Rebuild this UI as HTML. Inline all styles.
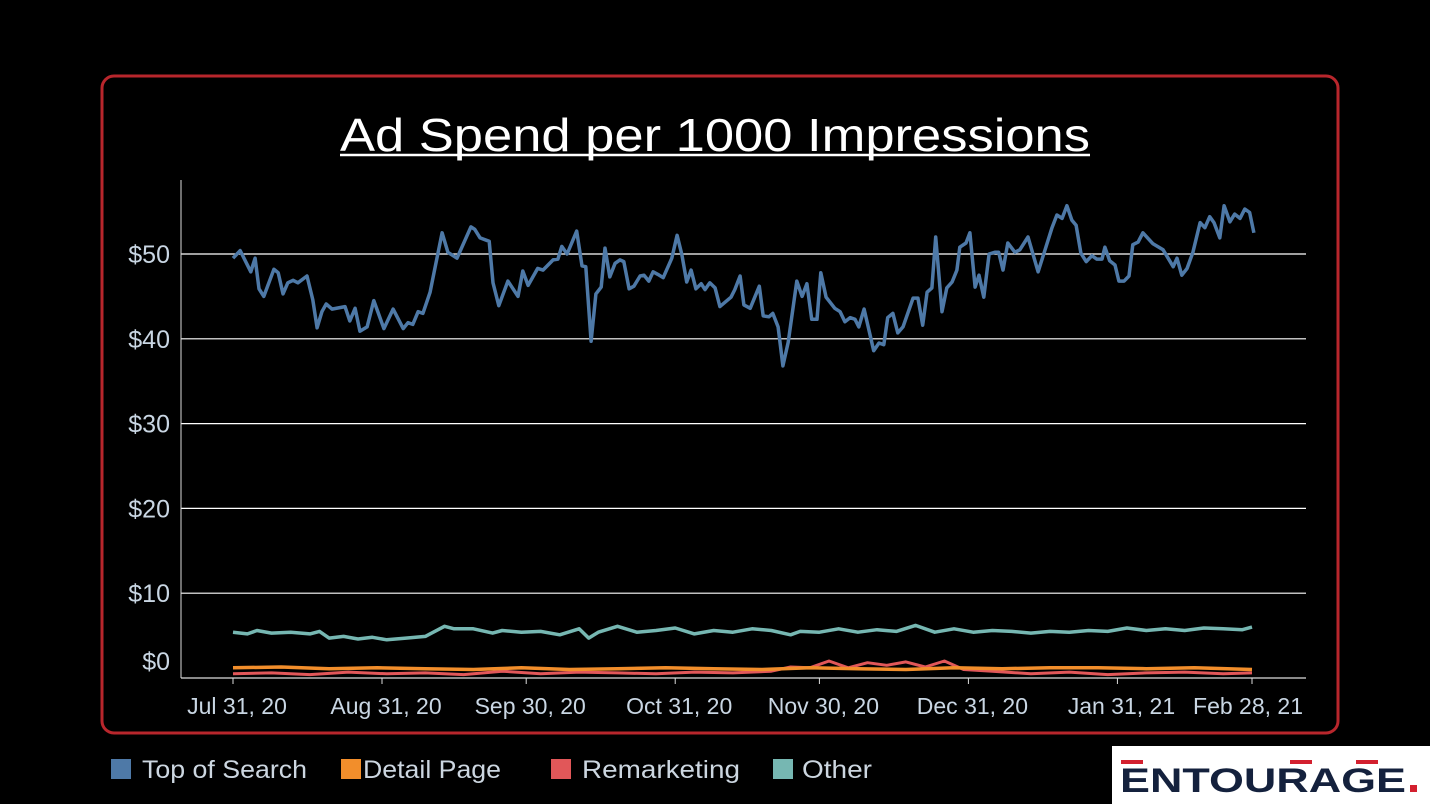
<!DOCTYPE html>
<html><head><meta charset="utf-8"><style>
html,body{margin:0;padding:0;background:#000;width:1430px;height:804px;overflow:hidden;font-family:"Liberation Sans",sans-serif}
</style></head><body>
<svg id="chart" width="1430" height="804" viewBox="0 0 1430 804" xmlns="http://www.w3.org/2000/svg">
<rect x="0" y="0" width="1430" height="804" fill="#000"/>
<rect x="102" y="76" width="1236" height="657" rx="12" fill="none" stroke="#b8262c" stroke-width="3"/>
<text x="715" y="151" text-anchor="middle" font-size="46" fill="#fff" textLength="750" lengthAdjust="spacingAndGlyphs">Ad Spend per 1000 Impressions</text>
<line x1="340" y1="155" x2="1090" y2="155" stroke="#fff" stroke-width="2.5"/>
<g id="grid"></g>
<g id="axes"></g>
<g id="series"></g>
<g id="legend">
<rect x="111" y="759" width="20" height="20" fill="#4e79a7"/>
<text x="142" y="778" font-size="25" fill="#ccd6e0" textLength="165" lengthAdjust="spacingAndGlyphs">Top of Search</text>
<rect x="341" y="759" width="20" height="20" fill="#f28e2b"/>
<text x="363" y="778" font-size="25" fill="#ccd6e0" textLength="138" lengthAdjust="spacingAndGlyphs">Detail Page</text>
<rect x="551" y="759" width="20" height="20" fill="#e15759"/>
<text x="582" y="778" font-size="25" fill="#ccd6e0" textLength="158" lengthAdjust="spacingAndGlyphs">Remarketing</text>
<rect x="773" y="759" width="20" height="20" fill="#76b7b2"/>
<text x="802" y="778" font-size="25" fill="#ccd6e0" textLength="70" lengthAdjust="spacingAndGlyphs">Other</text>
</g>
<g>
<rect x="1112" y="746" width="318" height="58" fill="#fff"/>
<rect x="1121" y="760" width="22" height="4" fill="#d3202f"/>
<rect x="1290" y="760" width="22" height="4" fill="#d3202f"/>
<rect x="1356" y="760" width="22" height="4" fill="#d3202f"/>
<text x="1120" y="792" font-size="34" font-weight="bold" fill="#14213d" textLength="286" lengthAdjust="spacingAndGlyphs">ENTOURAGE</text>
<rect x="1410" y="785" width="7" height="7" fill="#d3202f"/>
</g>
</svg>
<script>
const topDays=[0,1.5,3.7,4.6,5.4,6.4,8.5,9.4,10.4,11.4,12.5,13.5,15.4,16.6,17.5,18.5,19.4,20.6,23.3,24.3,25.4,26.4,27.9,29.3,31.4,33.3,35.4,36.4,37.4,38.5,39.5,41,41.6,43.5,44.7,46.6,49.5,50.3,51.4,53.3,54.1,55.3,57.2,59.3,60.3,61.4,63.4,64.5,66.6,67.6,68.4,69.5,71.5,72.6,73.4,74.5,75.5,76.6,77.4,78.4,79.5,80.5,81.3,82.4,83.4,84.7,85.5,86.5,87.4,88.4,89.5,91.3,92.4,93.4,94.4,95.3,96.3,97.4,98.2,99.2,100.3,101.3,103.6,104.4,105.5,106.3,107.6,109.5,110.3,111.5,112.3,113.4,114.4,115.5,117.3,118.4,119.4,120.4,121.5,122.3,123.4,125.2,126.3,127.3,128.4,129.4,130.2,131.3,133.3,134.4,135.4,136.2,137.3,138.3,139.4,141.5,142.5,143.5,144.4,145.4,146.2,147.5,148.5,149.6,150.6,151.2,152.5,153.3,154.4,155.2,156.2,157.3,158.5,159.3,160.2,161.2,162.7,163.7,165.4,167.5,168.9,170.4,171.4,172.5,173.5,174.5,175.4,176.4,177.5,178.7,179.7,180.8,181.4,182.4,183.5,184.3,185.4,186.4,187.2,188.3,189.3,191.4,193.5,195.6,196.4,197.4,198.5,199.7,201.2,202.2,203.2,204.1,205.3,206.2,207.4,208.4,209.5,210.5,211.5,212.4];
const topValues=[49.5,50.4,47.9,49.5,45.9,45.0,48.2,47.8,45.3,46.6,46.9,46.6,47.4,44.6,41.3,43.2,44.1,43.5,43.8,42.1,43.6,40.9,41.4,44.5,41.2,43.5,41.2,41.9,41.7,43.2,43.0,45.5,47.2,52.5,50.2,49.5,53.2,52.9,51.9,51.5,46.6,43.9,46.8,45.0,48.0,46.3,48.3,48.1,49.3,49.4,50.9,50.0,52.7,48.6,48.5,39.7,45.3,46.1,50.7,47.3,48.9,49.3,49.1,45.9,46.2,47.4,47.5,46.8,47.9,47.6,47.2,49.5,52.2,49.9,46.7,48.1,45.9,46.5,45.8,46.6,46.0,43.8,44.9,45.8,47.4,44.0,43.6,46.2,42.7,42.6,43.0,41.4,36.8,39.6,46.8,45.0,46.5,42.3,42.3,47.8,44.9,43.6,43.2,42.0,42.5,42.3,41.4,43.5,38.6,39.5,39.3,42.5,43.0,40.7,41.4,44.8,44.8,41.6,45.5,46.0,52.0,43.2,46.0,46.7,48.1,50.8,51.3,52.5,46.1,47.5,44.9,50.0,50.2,50.2,48.1,51.3,50.2,50.5,52.0,47.9,50.4,53.1,54.6,54.2,55.7,54.0,53.4,50.1,49.1,49.8,49.4,49.4,50.8,49.2,48.7,46.8,46.8,47.4,51.1,51.4,52.5,51.2,50.5,48.5,49.5,47.5,48.3,50.2,53.7,53.1,54.4,53.7,51.9,55.7,53.8,54.7,54.2,55.3,54.9,52.5];
const otherDays=[0,3,5,8,12,16,18,20,23,26,29,32,36,40,44,46,50,54,56,60,64,68,72,74,76,80,84,88,92,96,100,104,108,112,116,118,122,126,130,134,138,142,146,150,154,158,162,166,170,174,178,182,186,190,194,198,202,206,210,212];
const otherValues=[5.4,5.2,5.6,5.3,5.4,5.2,5.5,4.7,4.9,4.6,4.8,4.5,4.7,4.9,6.1,5.8,5.8,5.3,5.6,5.4,5.5,5.1,5.8,4.7,5.4,6.1,5.4,5.6,5.9,5.2,5.6,5.4,5.8,5.6,5.1,5.5,5.4,5.8,5.4,5.7,5.5,6.2,5.4,5.8,5.4,5.6,5.5,5.3,5.5,5.4,5.6,5.5,5.9,5.6,5.8,5.6,5.9,5.8,5.7,6.0];
const detailDays=[0,10,20,30,40,50,60,70,80,90,100,110,120,130,140,150,160,170,180,190,200,212];
const detailValues=[1.2,1.3,1.1,1.2,1.1,1.0,1.2,1.0,1.1,1.2,1.1,1.0,1.2,1.1,1.0,1.2,1.1,1.2,1.2,1.1,1.2,1.0];
const remDays=[0,8,16,24,32,40,48,56,64,72,80,88,96,104,112,116,120,124,128,132,136,140,144,148,152,158,166,174,182,190,198,206,212];
const remValues=[0.5,0.6,0.4,0.7,0.5,0.6,0.4,0.8,0.5,0.7,0.6,0.5,0.7,0.6,0.8,1.3,1.2,2.0,1.2,1.8,1.5,1.9,1.3,2.0,1.0,0.8,0.5,0.7,0.4,0.6,0.7,0.5,0.6];
const yTicks=[0,10,20,30,40,50];
const yTickLabels=["$0","$10","$20","$30","$40","$50"];
const xTickDays=[0,31,61,92,122,153,184,212];
const xTickLabels=["Jul 31, 20","Aug 31, 20","Sep 30, 20","Oct 31, 20","Nov 30, 20","Dec 31, 20","Jan 31, 21","Feb 28, 21"];

const NS="http://www.w3.org/2000/svg";
const x=d=>233+d*(1252-233)/212;
const y=v=>678-v*8.48;
function mk(tag,attrs,parent){const e=document.createElementNS(NS,tag);for(const k in attrs)e.setAttribute(k,attrs[k]);parent.appendChild(e);return e;}
const grid=document.getElementById('grid'),axes=document.getElementById('axes'),series=document.getElementById('series');
yTicks.forEach((v,i)=>{
  if(v>0){const l=mk('line',{x1:181,x2:1306,y1:y(v),y2:y(v),stroke:'#fff','stroke-width':1.2},grid);
  
  }
  const t=mk('text',{x:170,y:(v===0?y(v)-8:y(v)+9),'text-anchor':'end','font-size':25,fill:'#c9d6e3'},axes);
  t.textContent=yTickLabels[i];
  
  
});
const ya=mk('line',{x1:181,x2:181,y1:180,y2:678,stroke:'#ddd','stroke-width':1},axes);


const xa=mk('line',{x1:181,x2:1306,y1:678,y2:678,stroke:'#ddd','stroke-width':1.2},axes);


xTickDays.forEach((d,i)=>{
  const tk=mk('line',{x1:x(d),x2:x(d),y1:678,y2:684,stroke:'#ddd','stroke-width':1},axes);
  
  
  const t=mk('text',{x:(i===xTickDays.length-1?x(d)-4:x(d)+4),y:714,'text-anchor':'middle','font-size':23,fill:'#c9d6e3'},axes);
  t.textContent=xTickLabels[i];
  
  
});
function line(days,vals,color,name,w){
  const p=mk('path',{d:days.map((d,i)=>(i?'L':'M')+x(d).toFixed(1)+','+y(vals[i]).toFixed(1)).join(''),fill:'none',stroke:color,'stroke-width':w,'stroke-linejoin':'round'},series);
  
  
}
line(otherDays,otherValues,'#76b7b2','line-other',3.5);
line(remDays,remValues,'#e15759','line-remarketing',3);
line(detailDays,detailValues,'#f28e2b','line-detail-page',3.5);
line(topDays,topValues,'#4e79a7','line-top-of-search',3.5);
</script>
</body></html>
